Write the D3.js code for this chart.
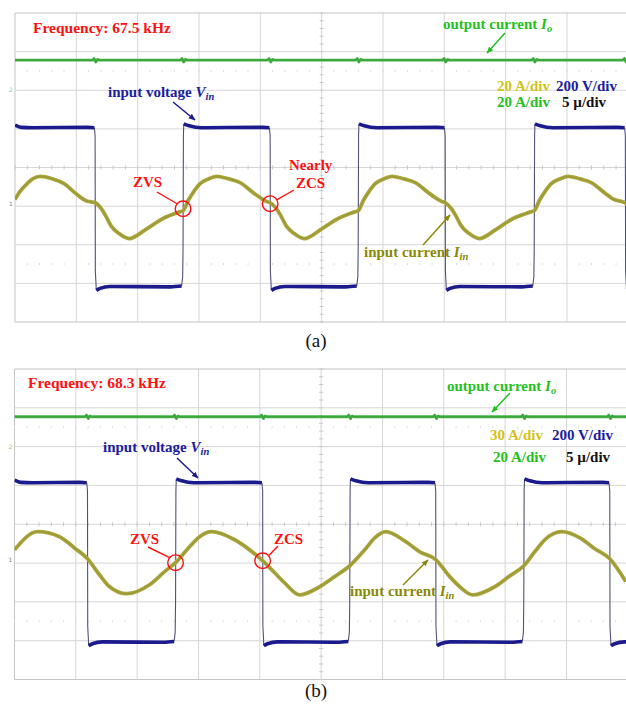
<!DOCTYPE html>
<html><head><meta charset="utf-8">
<script src="https://cdn.jsdelivr.net/npm/d3@7"></script>
<style>body{margin:0;background:#fff}svg{display:block}</style>
</head><body><svg id="c" width="626" height="704"></svg>
<script>
// ---------------- DATA ----------------
const timeDomain = [0, 50];          // µs, 5 µs/div, 10 div
const divDomain = [-4, 4];           // vertical divisions
const gridTimes = d3.range(0, 51, 5);
const gridDivs = d3.range(-4, 5, 1);

const freqLabels = ["Frequency: 67.5 kHz", "Frequency: 68.3 kHz"];
const panelTags = ["(a)", "(b)"];
const scaleA = ["20 A/div", "200 V/div", "20 A/div", "5 \u00b5/div"];
const scaleB = ["30 A/div", "200 V/div", "20 A/div", "5 \u00b5/div"];

// input voltage Vin: switching edge times (µs), trace starts high, alternates fall/rise
const vinEdgesA = [6.53, 13.70, 20.80, 27.98, 35.07, 42.33, 49.76];
const vinEdgesB = [5.95, 13.13, 20.23, 27.33, 34.34, 41.52, 48.53];
const vinHighA = 1.03, vinLowA = -3.08;
const vinHighB = 1.07, vinLowB = -3.03;

// output current Io level (div)
const ioLevelA = 2.78, ioLevelB = 2.77;

// input current Iin (time µs, value div)
const iinTA = [0.00,0.41,0.98,1.47,2.04,3.02,4.00,4.98,5.79,6.20,6.53,
  7.02,7.34,7.83,8.48,9.30,10.77,12.07,13.05,13.40,13.70,14.11,14.52,15.09,15.82,16.48,17.37,18.35,19.41,20.23,20.50,20.80,
  21.29,21.62,22.11,22.76,23.57,25.04,26.35,27.33,27.68,27.98,28.39,28.80,29.37,30.10,30.76,31.65,32.63,33.69,34.51,34.80,35.07,
  35.56,35.89,36.38,37.03,37.85,39.32,40.62,41.68,42.03,42.33,42.74,43.15,43.72,44.46,45.11,46.01,46.98,48.04,48.85,49.45,49.75,50.00];
const iinVA = [-0.83,-0.62,-0.42,-0.29,-0.23,-0.29,-0.42,-0.68,-0.86,-0.89,-0.91,
  -1.06,-1.22,-1.51,-1.71,-1.84,-1.58,-1.32,-1.19,-1.15,-1.12,-0.86,-0.65,-0.42,-0.29,-0.23,-0.29,-0.39,-0.65,-0.83,-0.88,-0.91,
  -1.06,-1.22,-1.51,-1.71,-1.84,-1.58,-1.32,-1.19,-1.15,-1.12,-0.86,-0.65,-0.42,-0.29,-0.23,-0.29,-0.39,-0.65,-0.83,-0.88,-0.91,
  -1.06,-1.22,-1.51,-1.71,-1.84,-1.58,-1.32,-1.19,-1.15,-1.12,-0.86,-0.65,-0.42,-0.29,-0.23,-0.29,-0.39,-0.65,-0.83,-0.88,-0.91,-1.01];
const iinTB = [0.00,1.88,3.67,4.89,5.95,6.93,7.75,9.14,11.01,12.24,13.13,14.27,15.09,16.07,17.95,19.17,20.23,
  21.21,22.02,23.25,24.88,26.10,27.33,28.55,29.37,30.26,31.81,33.04,34.34,35.48,36.30,37.36,39.15,40.38,41.52,
  42.41,43.23,44.62,46.09,47.31,48.53,49.84];
const iinVB = [-0.66,-0.19,-0.32,-0.61,-0.89,-1.30,-1.61,-1.79,-1.56,-1.22,-0.99,-0.58,-0.32,-0.19,-0.40,-0.66,-0.94,
  -1.25,-1.51,-1.82,-1.61,-1.35,-1.07,-0.66,-0.35,-0.19,-0.43,-0.71,-0.91,-1.35,-1.61,-1.82,-1.61,-1.33,-1.07,
  -0.71,-0.40,-0.19,-0.35,-0.63,-0.89,-1.48];

// ---------------- LAYOUT / STYLE ----------------
const panels = [
  {left:15, top:13, bottom:322, edges:vinEdgesA, hi:vinHighA, lo:vinLowA, io:ioLevelA, it:iinTA, iv:iinVA,
   freq:freqLabels[0], tag:panelTags[0], scale:scaleA},
  {left:14.5, top:369, bottom:679.5, edges:vinEdgesB, hi:vinHighB, lo:vinLowB, io:ioLevelB, it:iinTB, iv:iinVB,
   freq:freqLabels[1], tag:panelTags[1], scale:scaleB}
];
const divW = 61.33;
const C = {
  grid:"#d6d6d6", border:"#c4c4c4", blue:"#1b1b8e", edge:"#50507a", green:"#44b044",
  yellow:"#aaa640", red:"#ff1010", gText:"#1fc01f", bText:"#1c1c9e", yText:"#d2c21c", oText:"#8a8808"
};
const FONT = "'Liberation Serif','Times New Roman',serif";

const svg = d3.select("#c");
const defs = svg.append("defs");
function marker(id, color){
  defs.append("marker").attr("id",id).attr("viewBox","0 0 10 10").attr("refX",9).attr("refY",5)
    .attr("markerWidth",7).attr("markerHeight",7).attr("markerUnits","userSpaceOnUse").attr("orient","auto")
    .append("path").attr("d","M0,1 L10,5 L0,9 Z").attr("fill",color);
}
marker("mg", C.gText); marker("mb", C.blue); marker("mo", C.oText);

function buildVin(edges, hi, lo){
  const segs = [], trans = [];
  let state = 1; let seg = [[0, hi+0.07],[0.5, hi+0.01],[1.5, hi]];
  edges.forEach(e=>{
    if(state===1){
      seg.push([e-0.6, hi+0.01],[e-0.06, hi]);
      segs.push(seg);
      seg = [[e+0.10, lo-0.10],[e+0.4, lo-0.05],[e+1.2, lo]];
      trans.push([[e-0.06,hi],[e,hi-0.2],[e+0.02,lo+0.4],[e+0.10,lo-0.10]]);
    } else {
      seg.push([e-1.0, lo-0.01],[e-0.12, lo+0.01]);
      segs.push(seg);
      seg = [[e+0.06, hi+0.10],[e+0.5, hi+0.05],[e+1.5, hi]];
      trans.push([[e-0.12,lo+0.01],[e-0.03,lo+0.25],[e,lo+1],[e+0.03,hi-0.2],[e+0.06,hi+0.10]]);
    }
    state = 1-state;
  });
  seg.push([50, state? hi: lo]);
  segs.push(seg);
  return {segs, trans};
}

panels.forEach((p,pi)=>{
  const x = d3.scaleLinear().domain(timeDomain).range([p.left, p.left+10*divW]);
  const y = d3.scaleLinear().domain(divDomain).range([p.bottom, p.top]);
  const g = svg.append("g");
  const clipId = "clip"+pi;
  defs.append("clipPath").attr("id",clipId).append("rect")
    .attr("x",p.left).attr("y",p.top-3).attr("width",10*divW).attr("height",p.bottom-p.top+6);

  // grid
  g.selectAll(".gx").data(gridTimes).join("line")
    .attr("x1",d=>x(d)).attr("x2",d=>x(d)).attr("y1",p.top).attr("y2",p.bottom)
    .attr("stroke",(d,i)=>i===0?C.border:C.grid).attr("stroke-width",1);
  g.selectAll(".gy").data(gridDivs).join("line")
    .attr("x1",p.left).attr("x2",x(50)).attr("y1",d=>y(d)).attr("y2",d=>y(d))
    .attr("stroke",(d,i)=>(i===0||i===8)?C.border:C.grid).attr("stroke-width",1);
  const minorT = d3.range(0,50.01,1);
  g.selectAll(".mt").data(minorT).join("line")
    .attr("x1",d=>x(d)).attr("x2",d=>x(d)).attr("y1",y(0)-2).attr("y2",y(0)+2)
    .attr("stroke","#c8c8c8");
  const minorD = d3.range(-4,4.01,0.2);
  g.selectAll(".md").data(minorD).join("line")
    .attr("x1",x(25)-2).attr("x2",x(25)+2).attr("y1",d=>y(d)).attr("y2",d=>y(d))
    .attr("stroke","#c8c8c8");
  [2.5,-2.5].forEach(r=>{
    g.selectAll(null).data(minorT).join("line")
      .attr("x1",d=>x(d)).attr("x2",d=>x(d)).attr("y1",y(r)-1).attr("y2",y(r)+1)
      .attr("stroke","#dcdcdc");
  });

  // ground markers
  g.append("text").attr("x",p.left-6).attr("y",y(p.io-0.78)+2).text("2")
    .attr("font-size",6).attr("fill","#7fcf7f").attr("font-family","DejaVu Sans");
  g.append("text").attr("x",p.left-6).attr("y",y(pi===0?-0.95:-0.92)+2).text("1")
    .attr("font-size",6).attr("fill","#7a7aa0").attr("font-family","DejaVu Sans");

  const tr = g.append("g").attr("clip-path",`url(#${clipId})`);
  const line = d3.line().x(d=>x(d[0])).y(d=>y(d[1]));
  const smooth = d3.line().curve(d3.curveMonotoneX).x(d=>x(d[0])).y(d=>y(d[1]));

  // Io
  const io = [[0,p.io]];
  p.edges.forEach(e=>{ io.push([e-0.2,p.io],[e-0.08,p.io+0.045],[e+0.05,p.io-0.05],[e+0.2,p.io+0.02],[e+0.35,p.io]); });
  io.push([50,p.io]);
  tr.append("path").attr("d",smooth(io)).attr("fill","none").attr("stroke",C.green).attr("stroke-width",2.8);
  tr.append("path").attr("d",smooth(io)).attr("fill","none").attr("stroke","#2e962e").attr("stroke-width",0.8).attr("opacity",0.6);

  // Vin
  const vin = buildVin(p.edges,p.hi,p.lo);
  tr.selectAll(".ep").data(vin.trans).join("path").attr("d",d=>line(d))
    .attr("fill","none").attr("stroke",C.edge).attr("stroke-width",1.1);
  tr.selectAll(".seg").data(vin.segs).join("path").attr("d",d=>smooth(d))
    .attr("fill","none").attr("stroke",C.blue).attr("stroke-width",3.6);

  // Iin
  const iin = p.it.map((t,i)=>[t,p.iv[i]]);
  tr.append("path").attr("d",smooth(iin)).attr("fill","none").attr("stroke",C.yellow).attr("stroke-width",3.8);
  tr.append("path").attr("d",smooth(iin)).attr("fill","none").attr("stroke","#8f8b22").attr("stroke-width",1.2).attr("opacity",0.5);

  // ---------- text ----------
  const T = (xx,yy,str,col,size=15)=>g.append("text").attr("x",xx).attr("y",yy).text(str)
      .attr("fill",col).attr("font-family",FONT).attr("font-weight","bold").attr("font-size",size);
  T(pi===0?33:28, pi===0?33:388, p.freq, C.red, 15.5);

  const oc = T(pi===0?443:447, pi===0?29:391, "output current ", C.gText);
  oc.append("tspan").attr("font-style","italic").text("I");
  oc.append("tspan").attr("font-style","italic").attr("font-size",10.5).attr("dy",3).text("o");
  const iv = T(pi===0?108:103, pi===0?97:452, "input voltage ", C.bText);
  iv.append("tspan").attr("font-style","italic").text("V");
  iv.append("tspan").attr("font-style","italic").attr("font-size",10.5).attr("dy",3).text("in");
  const ic = T(pi===0?364:350, pi===0?257:596, "input current ", C.oText);
  ic.append("tspan").attr("font-style","italic").text("I");
  ic.append("tspan").attr("font-style","italic").attr("font-size",10.5).attr("dy",3).text("in");

  if(pi===0){
    T(497,91,p.scale[0],C.yText); T(556,91,p.scale[1],C.bText);
    T(497,107,p.scale[2],C.gText); T(562,107,p.scale[3],"#111");
  } else {
    T(490,440,p.scale[0],C.yText); T(552,440,p.scale[1],C.bText);
    T(493,462,p.scale[2],C.gText); T(566,462,p.scale[3],"#111");
  }

  const A = (x1,y1,x2,y2,col,m)=>g.append("line").attr("x1",x1).attr("y1",y1).attr("x2",x2).attr("y2",y2)
      .attr("stroke",col).attr("stroke-width",1.5).attr("marker-end",`url(#${m})`);
  if(pi===0){
    A(505,33,487,53,C.gText,"mg");
    A(173,102,195,120,C.blue,"mb");
    A(423,245,450,215,C.oText,"mo");
  } else {
    A(510,393,492,412,C.gText,"mg");
    A(177,458,198,478,C.blue,"mb");
    A(403,585,428,560,C.oText,"mo");
  }

  const zvsT = p.edges[1], zcsT = p.edges[2];
  const interp = t=>{ const i = d3.bisectLeft(p.it,t); return p.iv[Math.min(i,p.iv.length-1)]; };
  const cz = [x(zvsT), y(interp(zvsT))-(pi===0?2:0)];
  const cc = [x(zcsT), y(interp(zcsT))+(pi===0?1:0)];
  const ann = g.append("g").attr("stroke",C.red).attr("fill","none").attr("stroke-width",1.4);
  ann.append("circle").attr("cx",cz[0]).attr("cy",cz[1]).attr("r",7.8);
  ann.append("circle").attr("cx",cc[0]).attr("cy",cc[1]).attr("r",7.8);
  if(pi===0){
    ann.append("line").attr("x1",157).attr("y1",192).attr("x2",cz[0]-6).attr("y2",cz[1]-5);
    ann.append("line").attr("x1",294).attr("y1",190).attr("x2",cc[0]+7).attr("y2",cc[1]-4);
    T(133,187,"ZVS",C.red);
    T(289,170,"Nearly",C.red);
    T(296,188,"ZCS",C.red);
  } else {
    ann.append("line").attr("x1",148).attr("y1",547).attr("x2",cz[0]-6).attr("y2",cz[1]-5);
    ann.append("line").attr("x1",278).attr("y1",546).attr("x2",cc[0]+6).attr("y2",cc[1]-5);
    T(130,544,"ZVS",C.red);
    T(274,544,"ZCS",C.red);
  }

  g.append("text").attr("x",316).attr("y",pi===0?347:697).attr("text-anchor","middle")
    .attr("font-family",FONT).attr("font-size",19).attr("fill","#111").text(p.tag);
});
</script></body></html>
